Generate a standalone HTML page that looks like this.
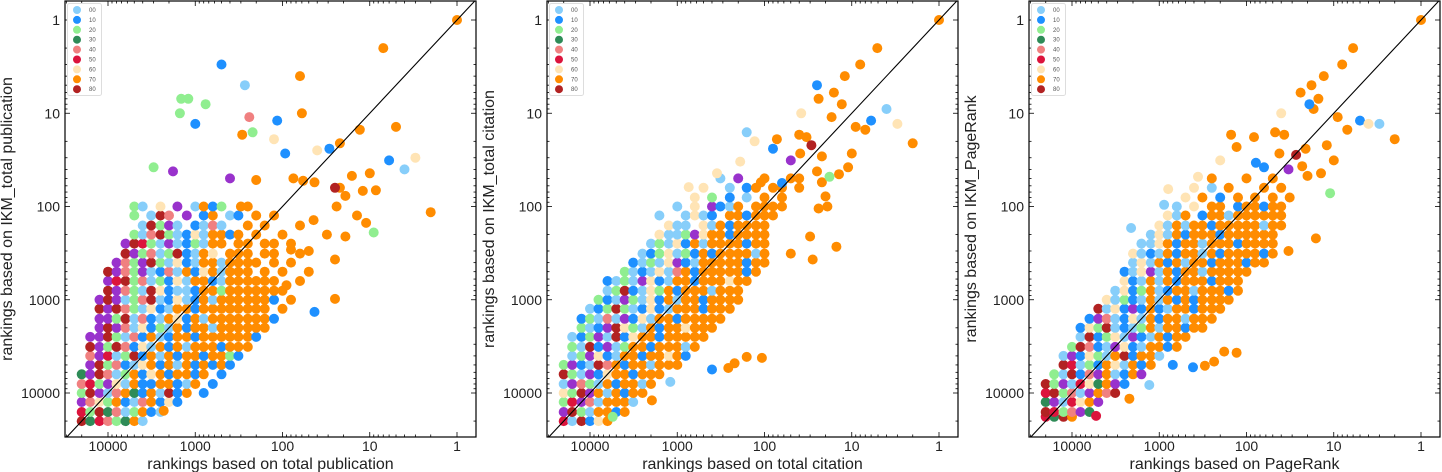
<!DOCTYPE html>
<html><head><meta charset="utf-8"><style>
html,body{margin:0;padding:0;background:#fff;}
svg{display:block;font-family:"Liberation Sans",Arial,sans-serif;}
</style></head><body>
<svg id="fig" width="1442" height="472" viewBox="0 0 1442 472" xmlns="http://www.w3.org/2000/svg"></svg>
<script>
const groupLabels = ["00","10","20","30","40","50","60","70","80"];
const groupColors = ["#87cefa","#1e90ff","#90ee90","#2e8b57","#f08080","#dc143c","#ffe4b5","#ff8c00","#b22222","#9932cc"];
const tickValues = [1,10,100,1000,10000];
const tickLabels = ["1","10","100","1000","10000"];

// ---- Panel 1: total publication ----
const pubRowY = [20000,16000,12500,10000,8000,6300,5000,4000,3200,2500,2000,1600,1250,1000,800,630,500,400,320,250,200,160,125,100];
const pubRowX = [
[20000,16000,12500,10000,8000,6300,5000,4000],
[20000,16000,12500,10000,8000,6300,5000,4000,3200,2500],
[20000,16000,12500,10000,8000,6300,5000,4000,3200,2500,2000,1600],
[20000,16000,12500,10000,8000,6300,5000,4000,3200,2500,2000,1600,1250,800],
[20000,16000,12500,10000,8000,6300,5000,4000,3200,2500,2000,1600,1250,1000,630],
[20000,16000,12500,10000,8000,6300,5000,4000,3200,2500,2000,1600,1250,1000,800,500],
[16000,12500,10000,8000,6300,5000,4000,3200,2500,2000,1600,1250,1000,800,630,500,400],
[16000,12500,10000,8000,6300,5000,4000,3200,2500,2000,1600,1250,1000,800,630,500,400,320],
[16000,12500,10000,8000,6300,5000,4000,3200,2500,2000,1600,1250,1000,800,630,500,400,320,250],
[16000,12500,10000,8000,6300,5000,4000,3200,2500,2000,1600,1250,1000,800,630,500,400,320,250,200],
[12500,10000,8000,6300,5000,4000,3200,2500,2000,1600,1250,1000,800,630,500,400,320,250,200,160],
[12500,10000,8000,6300,5000,4000,3200,2500,2000,1600,1250,1000,800,630,500,400,320,250,200,160,125],
[12500,10000,8000,6300,5000,4000,3200,2500,2000,1600,1250,1000,800,630,500,400,320,250,200,160,100],
[12500,10000,8000,6300,5000,4000,3200,2500,2000,1600,1250,1000,800,630,500,400,320,250,200,160,125,80],
[10000,8000,6300,5000,4000,3200,2500,2000,1600,1250,1000,800,630,500,400,320,250,200,160,125,100],
[10000,8000,6300,5000,4000,3200,2500,2000,1600,1250,1000,800,630,500,400,320,250,200,160,125,63],
[10000,8000,6300,5000,4000,3200,2500,2000,1600,1250,1000,800,630,500,400,320,250,160,100,50],
[8000,6300,5000,4000,3200,2500,2000,1600,1250,1000,800,630,500,400,320,250,200,125,80],
[6300,5000,4000,3200,2500,2000,1600,1250,1000,800,630,400,320,250,160,125,63],
[6300,5000,4000,3200,2500,2000,1600,1250,1000,800,630,500,320,250,160,125,80],
[5000,4000,3200,2500,2000,1600,1250,1000,800,630,500,400,320,200,100],
[4000,3200,2500,2000,1600,1000,800,630,500,250,160,63],
[5000,3200,2500,2000,1250,800,630,400,320,200,125],
[5000,4000,2500,1600,1000,800,630,500,300,250]];
const pubRowG = [
[8,3,5,4,2,3,7,0],
[5,2,8,3,4,0,2,7,1,0],
[9,4,6,2,7,1,0,4,7,1,6,1],
[2,8,9,0,4,7,3,1,7,0,8,1,7,1],
[4,5,2,9,6,0,7,1,1,7,7,1,0,7,1],
[3,9,8,4,0,2,7,1,6,7,1,7,7,1,7,1],
[9,8,2,4,1,0,6,7,1,7,0,7,1,7,1,7,1],
[4,9,5,0,2,8,1,7,0,7,1,7,7,1,7,7,2,1],
[8,9,2,8,4,1,6,0,7,1,7,0,7,7,7,1,7,7,7],
[9,9,8,2,0,4,1,7,0,1,7,7,1,7,7,7,7,7,7,1],
[9,8,9,4,0,6,1,2,0,7,1,7,7,0,7,7,7,7,7,7],
[9,9,2,8,0,4,1,0,7,6,1,7,0,7,7,7,7,7,7,7,1],
[8,9,8,4,2,0,6,1,0,7,7,1,7,7,7,7,7,7,7,7,7],
[9,8,9,0,2,4,8,0,1,6,0,1,7,0,7,7,7,7,7,7,1,7],
[8,9,4,2,0,8,6,1,0,0,1,7,7,2,7,7,7,7,7,7,7],
[9,5,8,2,4,0,2,1,6,0,7,7,1,0,7,7,7,7,7,7,7],
[8,9,4,2,9,0,1,4,0,7,1,6,7,0,7,7,7,7,7,7],
[9,4,2,9,8,2,0,6,1,0,7,7,0,7,7,7,7,7,7],
[8,9,2,4,0,2,8,1,0,7,6,7,7,7,7,7,7],
[9,8,5,2,0,9,0,1,2,0,7,7,7,7,7,7,7],
[2,0,4,8,2,0,1,6,0,7,7,1,7,7,7],
[0,8,2,9,0,1,0,4,0,7,7,7],
[2,0,8,4,9,1,7,0,1,7,7],
[2,0,6,9,0,7,1,2,7,7]];
const pubExtra = [[2300,15500,7],[1,1,7],[7,2,7],[500,3,1],[270,5,0],[63,4,7],[1450,7,2],[1200,7,2],[760,8,2],[1500,10,2],[60,10,7],[240,11,4],[1000,13,1],[115,12,1],[290,17,7],[220,16,2],[13,15,7],[5,14,7],[125,19,6],[22,21,7],[29,24,1],[6,32,1],[40,25,6],[3,30,6],[93,27,1],[16,47,7],[10,44,7],[4,40,0],[3000,38,2],[1800,42,9],[400,50,9],[200,52,7],[75,50,7],[58,53,7],[43,55,7],[2,115,7],[22,63,7],[19,77,7],[8.5,67,7],[12,68,7],[25,63,8],[9,190,2],[24,100,7],[14,125,7],[11,150,7],[44,140,7],[31,200,7],[19,210,7],[80,290,7],[25,370,7],[50,300,7],[43,1350,1],[25,980,7],[90,700,7]];

// ---- Panel 2: total citation ----
const citRowY = [20000,16000,12500,10000,8000,6300,5000,4000,3200,2500,2000,1600,1250,1000,800,630,500,400,320,250,200,160,125,100,80,63,50];
const citRowX = [
[20000,16000,12500,10000,8000,6300],
[20000,16000,12500,10000,8000,6300,5000,4000],
[20000,16000,12500,10000,8000,6300,5000,4000,3200],
[20000,16000,12500,10000,8000,6300,5000,4000,3200,2500],
[20000,16000,12500,10000,8000,6300,5000,4000,3200,2500,2000],
[20000,16000,12500,10000,8000,6300,5000,4000,3200,2500,2000,1600],
[20000,16000,12500,10000,8000,6300,5000,4000,3200,2500,2000,1600,1250,1000],
[16000,12500,10000,8000,6300,5000,4000,3200,2500,2000,1600,1250,1000,800],
[16000,12500,10000,8000,6300,5000,4000,3200,2500,2000,1600,1250,1000,800,630],
[16000,12500,10000,8000,6300,5000,4000,3200,2500,2000,1600,1250,1000,800,630,500],
[12500,10000,8000,6300,5000,4000,3200,2500,2000,1600,1250,1000,800,630,500,400],
[12500,10000,8000,6300,5000,4000,3200,2500,2000,1600,1250,1000,800,630,500,400,320],
[10000,8000,6300,5000,4000,3200,2500,2000,1600,1250,1000,800,630,500,400,320,250],
[8000,6300,5000,4000,3200,2500,2000,1600,1250,1000,800,630,500,400,320,250,200],
[6300,5000,4000,3200,2500,2000,1600,1250,1000,800,630,500,400,320,250,200],
[6300,5000,4000,3200,2500,2000,1600,1250,1000,800,630,500,400,320,250,200,160],
[4000,3200,2500,2000,1600,1250,1000,800,630,500,400,320,250,200,160,125],
[3200,2500,2000,1600,1250,1000,800,630,500,400,320,250,200,160,125,100],
[2500,2000,1600,1250,1000,800,630,500,400,320,250,200,160,125,100,50],
[2000,1600,1250,1000,800,630,500,400,320,250,200,160,125,100],
[1600,1250,1000,800,630,500,400,320,250,200,160,125,100],
[1250,1000,800,500,400,320,250,200,160,125,100],
[1600,800,630,500,400,250,200,160,125,100,80],
[1000,630,400,320,250,200,125,100,80,63],
[630,400,250,160,100,63],
[500,250,160,125,80,63,40],
[320,200,100,50,40]];
const citRowG = [
[5,0,8,1,6,7],
[9,8,2,0,7,7,1,7],
[2,5,9,4,0,7,7,7,0],
[6,2,8,9,7,0,7,1,7,7],
[0,9,4,2,0,7,1,7,7,0,7],
[8,2,0,9,1,6,7,7,1,7,7,7],
[2,9,1,0,8,4,7,1,7,7,0,7,7,7],
[0,2,9,6,1,0,7,7,1,7,7,6,7,1],
[2,0,8,1,9,0,2,7,7,1,7,7,7,0,7],
[0,1,2,9,0,8,1,6,7,7,1,7,7,7,7,7],
[2,0,1,9,8,6,2,0,7,1,7,7,6,7,7,7],
[1,2,0,4,0,9,1,6,0,7,7,1,7,7,7,7,7],
[0,1,2,8,2,0,1,6,1,0,7,7,7,1,7,7,7],
[2,1,0,9,2,0,6,1,7,0,7,7,1,7,7,7,7],
[0,2,8,1,0,6,2,7,1,7,7,7,0,7,7,7],
[1,0,2,0,9,6,1,0,7,7,1,7,7,7,6,7,7],
[2,0,1,0,6,0,4,7,1,7,7,7,7,7,1,7],
[1,0,2,0,6,9,1,0,7,7,7,7,7,1,7,7],
[0,1,2,6,0,2,1,7,1,7,7,7,7,0,7,7],
[0,2,0,6,1,7,0,7,7,7,7,1,7,7],
[6,0,0,2,9,6,7,7,1,7,7,7,7],
[6,0,0,6,0,7,1,7,7,7,7],
[0,0,6,0,1,7,7,1,7,7,7],
[0,6,9,1,0,7,7,7,7,7],
[6,2,1,0,7,7],
[6,0,1,7,7,7,7],
[0,9,7,7,7]];
const citExtra = [[5500,18000,2],[1950,12000,7],[1200,7600,0],[260,5400,7],[220,4800,7],[160,4100,7],[107,4200,7],[400,5600,1],[1,1,7],[5.1,2,7],[8,3,7],[12,4,7],[25,5,1],[24,7,7],[16,6,7],[13,8,7],[38,10,6],[4,9,0],[6,12,1],[3,13,6],[9,14,7],[7,15,7],[17,11,7],[2,21,7],[160,16,0],[40,17,7],[33,18,7],[29,22,8],[72,19,7],[39,27,7],[22,29,7],[10,27,7],[130,20,6],[190,33,6],[350,44,6],[740,62,6],[11,38,7],[14,45,7],[22,55,7],[50,32,9],[18,48,2],[25,42,7],[20,78,7],[19,100,7],[24,105,7],[30,210,7],[15,270,7],[28,370,7],[80,24,1],[63,56,1],[110,55,7]];

// ---- Panel 3: PageRank ----
const prRowY = [18000,16000,12500,10000,8000,6300,5000,4000,3200,2500,2000,1600,1250,1000,800,630,500,400,320,250,200,160,125,100,80,63,50];
const prRowX = [
[20000,16000,12500,10000],
[20000,16000,12500,10000,8000,6300],
[20000,16000,12500,10000,8000,6300,5000],
[20000,16000,12500,10000,8000,6300,5000,4000,3200],
[20000,16000,12500,10000,8000,6300,5000,4000,3200,2500],
[16000,12500,10000,8000,6300,5000,4000,3200,2500,2000,1600],
[12500,10000,8000,6300,5000,4000,3200,2500,2000,1600,1250],
[12500,10000,8000,6300,5000,4000,3200,2500,2000,1600,1250,1000],
[10000,8000,6300,5000,4000,3200,2500,2000,1600,1250,1000,800,630],
[8000,6300,5000,4000,3200,2500,2000,1600,1250,1000,800,630,500],
[8000,6300,5000,4000,3200,2500,2000,1600,1250,1000,800,630,500,400,320],
[6300,5000,4000,3200,2500,2000,1600,1250,1000,800,630,500,400,320,250],
[5000,4000,3200,2500,2000,1600,1250,1000,800,630,500,400,320,250,200],
[4000,3200,2500,2000,1600,1250,1000,800,630,500,400,320,250,200,160],
[3200,2500,2000,1600,1250,1000,800,630,500,400,320,250,200,160,125],
[2500,2000,1600,1250,1000,800,630,500,400,320,250,200,160,125],
[2500,2000,1600,1250,1000,800,630,500,400,320,250,200,160,125,100],
[2000,1600,1250,1000,800,630,500,400,320,250,200,160,125,100,80,63],
[2000,1600,1250,1000,800,630,500,400,320,250,200,160,125,100,80,63,50],
[1600,1250,1000,800,630,500,400,320,250,200,160,125,100,80,63,50],
[1250,1000,800,630,500,400,320,250,200,160,125,100,80,63,50],
[1000,800,630,500,400,320,250,200,160,125,100,80,63,50,40],
[800,630,500,320,250,200,160,125,100,80,63,50,40],
[630,400,250,200,125,100,80,63,50,40],
[500,320,200,125,80,50,32],
[400,250,160,63,40],
[250,100,50]];
const prRowG = [
[5,3,8,7],
[8,5,2,4,9,3],
[3,9,0,5,6,7,9],
[5,8,2,4,0,9,7,4,8],
[8,2,9,0,5,6,3,7,9,1],
[2,0,8,1,4,9,7,0,1,7,9],
[8,5,0,2,1,7,6,0,7,1,7],
[0,9,1,6,2,0,7,8,1,7,7,0],
[2,8,4,1,0,9,6,1,0,7,7,1,7],
[0,8,1,2,6,0,9,1,0,7,1,7,7],
[1,6,2,8,0,1,0,2,7,0,7,7,1,7,7],
[1,9,4,0,1,6,0,7,1,7,7,0,7,7,7],
[8,0,6,1,9,1,7,1,0,7,7,1,7,7,7],
[6,0,2,1,0,7,0,7,1,7,1,7,7,7,7],
[0,6,1,2,7,0,1,7,7,0,7,7,7,1,7],
[6,1,0,7,0,7,1,7,7,7,1,7,7,7],
[1,0,6,9,0,7,1,7,7,0,7,7,7,7,7],
[0,6,0,7,1,7,0,7,7,1,7,7,7,1,7,7],
[6,0,1,0,7,1,7,7,0,7,1,7,7,7,7,1,7],
[0,0,6,7,1,7,7,0,7,7,7,1,7,7,7,7],
[0,6,0,7,1,7,7,7,1,7,7,7,7,7,7],
[6,0,7,0,7,7,1,7,7,7,7,7,0,7,7],
[6,0,7,1,7,7,0,7,7,7,7,7,7],
[0,6,7,7,1,7,7,1,7,7],
[6,7,1,7,7,7,7],
[6,0,7,7,7],
[7,7,7]];
const prExtra = [[1,1,7],[6,2,7],[8,3,7],[13,4,7],[18,5,7],[24,6,7],[15,7,7],[17,9,7],[19,8,1],[5,12,1],[4,13,6],[3,13,0],[40,10,6],[9,11,7],[7,15,7],[2,19,7],[47,16,7],[37,17,7],[82,18,7],[12,22,7],[10,32,7],[14,44,7],[27,28,8],[42,27,7],[21,24,7],[23,37,7],[20,47,7],[11,72,2],[33,40,9],[16,220,7],[33,300,7],[150,17,7],[130,23,7],[78,34,1],[63,38,1],[200,32,6],[360,48,6],[790,65,6],[880,96,0],[2100,170,0],[180,3600,7],[130,3700,7],[235,4600,7],[300,5100,7],[410,5300,1],[700,5000,1],[1300,8200,0],[2200,11500,7],[5300,17600,5]];

const NS = "http://www.w3.org/2000/svg";
const svg = document.getElementById("fig");
function mk(tag, attrs, parent) {
  const e = document.createElementNS(NS, tag);
  for (const k in attrs) e.setAttribute(k, attrs[k]);
  (parent || svg).appendChild(e);
  return e;
}
const TOP = 1, BOT = 437, W = 411, R = 5;

function drawPanel(idx, L, rowY, rowX, rowG, extra, xTitle, yTitle, yTitleX) {
  const xs = r => L + 392 - 87.25 * Math.log10(r);
  const ys = r => 20 + 93.25 * Math.log10(r);
  const g = mk("g", {});
  
  
  const cp = mk("clipPath", {id: "clip" + idx}, g);
  mk("rect", {x: L, y: TOP, width: W, height: BOT - TOP}, cp);
  const pts = mk("g", {"clip-path": "url(#clip" + idx + ")"}, g);
  
  
  for (let i = 0; i < rowY.length; i++) {
    for (let j = 0; j < rowX[i].length; j++) {
      const c = mk("circle", {cx: xs(rowX[i][j]).toFixed(1), cy: ys(rowY[i]).toFixed(1), r: R, fill: groupColors[rowG[i][j]]}, pts);
      
      
    }
  }
  for (const p of extra) {
    const c = mk("circle", {cx: xs(p[0]).toFixed(1), cy: ys(p[1]).toFixed(1), r: R, fill: groupColors[p[2]]}, pts);
    
    
  }
  const diag = mk("line", {x1: xs(Math.pow(10, 4.6)), y1: ys(Math.pow(10, 4.6)), x2: xs(Math.pow(10, -0.3)), y2: ys(Math.pow(10, -0.3)), stroke: "#000", "stroke-width": 1.1, "clip-path": "url(#clip" + idx + ")"}, g);
  
  
  const tk = mk("g", {stroke: "#000", "stroke-width": 0.8}, g);
  
  
  for (let e = 0; e <= 4; e++) {
    for (let m = 1; m <= 9; m++) {
      const v = m * Math.pow(10, e);
      const len = m === 1 ? 5 : 2.5;
      const xv = xs(v), yv = ys(v);
      if (xv > L && xv < L + W) {
        mk("line", {x1: xv, y1: BOT, x2: xv, y2: BOT - len}, tk);
        mk("line", {x1: xv, y1: TOP, x2: xv, y2: TOP + len}, tk);
      }
      if (yv > TOP && yv < BOT) {
        mk("line", {x1: L, y1: yv, x2: L + len, y2: yv}, tk);
        mk("line", {x1: L + W, y1: yv, x2: L + W - len, y2: yv}, tk);
      }
    }
  }
  for (let i = 0; i < tickValues.length; i++) {
    const t = mk("text", {x: xs(tickValues[i]), y: 451, "text-anchor": "middle", "font-size": 14, fill: "#222"}, g);
    t.textContent = tickLabels[i];
    
    
    const u = mk("text", {x: L - 5, y: ys(tickValues[i]) + 5, "text-anchor": "end", "font-size": 14, fill: "#222"}, g);
    u.textContent = tickLabels[i];
    
    
  }
  const fr = mk("rect", {x: L, y: TOP, width: W, height: BOT - TOP, fill: "none", stroke: "#000", "stroke-width": 1.2}, g);
  
  
  const xt = mk("text", {x: L + W / 2, y: 469, "text-anchor": "middle", "font-size": 16, fill: "#222"}, g);
  xt.textContent = xTitle;
  
  
  const yt = mk("text", {x: 0, y: 0, "text-anchor": "middle", "font-size": 16, fill: "#222", transform: "translate(" + yTitleX + ",219) rotate(-90)"}, g);
  yt.textContent = yTitle;
  
  
  const lg = mk("g", {}, g);
  
  
  mk("rect", {x: L + 2.5, y: 3.5, width: 34, height: 92, rx: 2, fill: "#fff", stroke: "#ddd", "stroke-width": 1}, lg);
  for (let i = 0; i < groupLabels.length; i++) {
    const en = mk("g", {}, lg);
    
    
    mk("circle", {cx: L + 12, cy: 10 + i * 9.9, r: 4, fill: groupColors[i]}, en);
    const lt = mk("text", {x: L + 24, y: 12 + i * 9.9, "font-size": 6, fill: "#555"}, en);
    lt.textContent = groupLabels[i];
  }
}

drawPanel(1, 65, pubRowY, pubRowX, pubRowG, pubExtra, "rankings based on total publication", "rankings based on IKM_total publication", 12);
drawPanel(2, 547, citRowY, citRowX, citRowG, citExtra, "rankings based on total citation", "rankings based on IKM_total citation", 494);
drawPanel(3, 1029, prRowY, prRowX, prRowG, prExtra, "rankings based on PageRank", "rankings based on IKM_PageRank", 976);
</script>
</body></html>
